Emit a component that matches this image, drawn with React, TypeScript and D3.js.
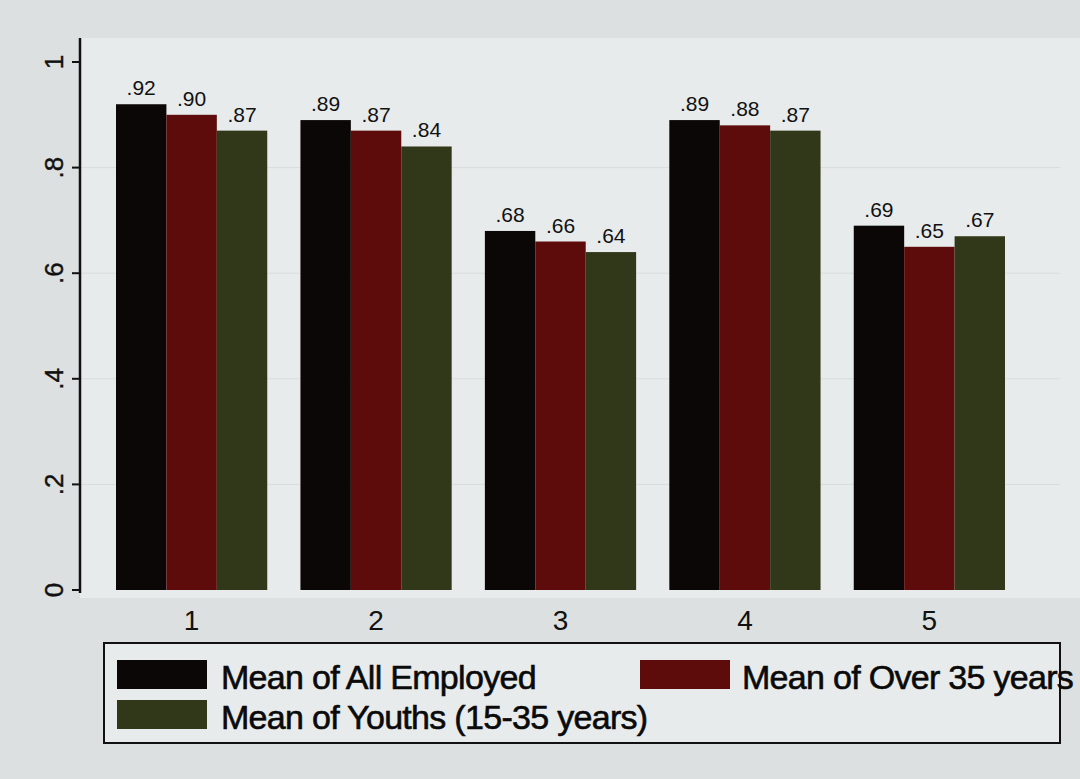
import React from "react";
import * as d3 from "d3";

const groups = ["1", "2", "3", "4", "5"];
const seriesNames = [
  "Mean of All Employed",
  "Mean of Over 35 years",
  "Mean of Youths (15-35 years)",
];
const allEmployed = [0.92, 0.89, 0.68, 0.89, 0.69];
const over35 = [0.9, 0.87, 0.66, 0.88, 0.65];
const youths = [0.87, 0.84, 0.64, 0.87, 0.67];
const yTicks = [0, 0.2, 0.4, 0.6, 0.8, 1];
const seriesColors = ["#0b0707", "#5e0b0c", "#31381a"];

const W = 1080;
const H = 779;
const FONT = "'Liberation Sans', Arial, sans-serif";

const fmt = (v: number) => (v === 0 ? "0" : v === 1 ? "1" : d3.format(".2f")(v).replace(/^0/, ""));
const tickFmt = (v: number) => (v === 0 ? "0" : v === 1 ? "1" : String(v).replace(/^0/, ""));

export default function App() {
  const series = [allEmployed, over35, youths];
  const y = d3.scaleLinear().domain([0, 1]).range([590, 62]);
  const x0 = d3.scaleBand<string>().domain(groups).range([116, 1005]).paddingInner(0.18);
  const x1 = d3
    .scaleBand<number>()
    .domain(d3.range(series.length))
    .range([0, x0.bandwidth()]);

  return (
    <div style={{ position: "fixed", left: 0, top: 0 }}>
      <svg width={W} height={H} style={{ display: "block" }}>
        <rect x={0} y={0} width={W} height={H} fill="#dde0e0" />
        <rect x={80} y={38} width={W - 80} height={560} fill="#e8ebeb" />

        {/* light gridlines */}
        {yTicks.slice(1, -1).map((t) => (
          <line key={t} x1={80} x2={1060} y1={y(t)} y2={y(t)} stroke="#d8dcdc" strokeWidth={1} />
        ))}

        {/* y axis */}
        <line x1={80} x2={80} y1={38} y2={593} stroke="#111" strokeWidth={2.5} />
        {yTicks.map((t) => (
          <g key={t} transform={`translate(0,${y(t)})`}>
            <line x1={72} x2={80} stroke="#111" strokeWidth={2} />
            <text
              transform="translate(63,0) rotate(-90)"
              textAnchor="middle"
              fontFamily={FONT}
              fontSize={26}
              fill="#111"
              stroke="#111"
              strokeWidth={0.4}
            >
              {tickFmt(t)}
            </text>
          </g>
        ))}

        {/* bars and value labels */}
        {groups.map((g, gi) => (
          <g key={g} transform={`translate(${x0(g)},0)`}>
            {series.map((vals, si) => {
              const v = vals[gi];
              const bx = x1(si) as number;
              return (
                <g key={si}>
                  <rect
                    x={bx}
                    y={y(v)}
                    width={x1.bandwidth()}
                    height={y(0) - y(v)}
                    fill={seriesColors[si]}
                  />
                  <text
                    x={bx + x1.bandwidth() / 2}
                    y={y(v) - 9}
                    textAnchor="middle"
                    fontFamily={FONT}
                    fontSize={21}
                    fill="#111"
                  >
                    {fmt(v)}
                  </text>
                </g>
              );
            })}
            <text
              x={x0.bandwidth() / 2}
              y={630}
              textAnchor="middle"
              fontFamily={FONT}
              fontSize={28}
              fill="#111"
            >
              {g}
            </text>
          </g>
        ))}

        {/* legend */}
        <rect x={104} y={643} width={956} height={100} fill="#e8ebeb" stroke="#111" strokeWidth={2} />
        {[
          { i: 0, sx: 117, sy: 660, tx: 221, ty: 689 },
          { i: 1, sx: 640, sy: 660, tx: 742, ty: 689 },
          { i: 2, sx: 117, sy: 700, tx: 221, ty: 729 },
        ].map((l) => (
          <g key={l.i}>
            <rect x={l.sx} y={l.sy} width={90} height={29} fill={seriesColors[l.i]} />
            <text
              x={l.tx}
              y={l.ty}
              fontFamily={FONT}
              fontSize={34}
              fill="#0a0a0a"
              stroke="#0a0a0a"
              strokeWidth={0.6}
              letterSpacing={-0.7}
            >
              {seriesNames[l.i]}
            </text>
          </g>
        ))}
      </svg>
    </div>
  );
}
